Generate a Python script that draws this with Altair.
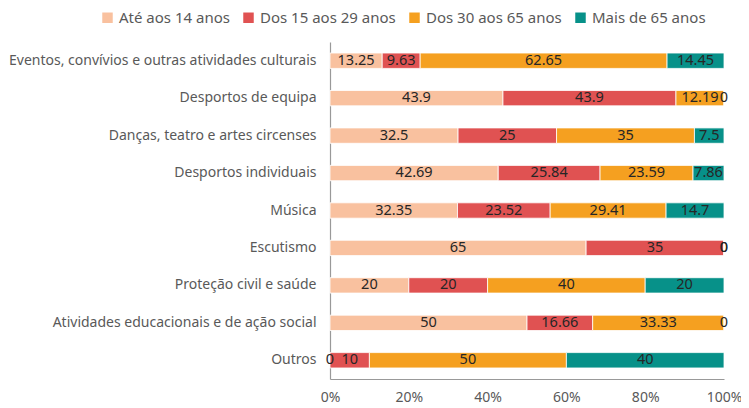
import altair as alt
import pandas as pd

categories = [
    "Eventos, convívios e outras atividades culturais",
    "Desportos de equipa",
    "Danças, teatro e artes circenses",
    "Desportos individuais",
    "Música",
    "Escutismo",
    "Proteção civil e saúde",
    "Atividades educacionais e de ação social",
    "Outros",
]
series = ["Até aos 14 anos", "Dos 15 aos 29 anos", "Dos 30 aos 65 anos", "Mais de 65 anos"]
colors = ["#F9C19F", "#E05252", "#F5A020", "#079189"]

ate14 = [13.25, 43.9, 32.5, 42.69, 32.35, 65, 20, 50, 0]
d15_29 = [9.63, 43.9, 25, 25.84, 23.52, 35, 20, 16.66, 10]
d30_65 = [62.65, 12.19, 35, 23.59, 29.41, 0, 40, 33.33, 50]
mais65 = [14.45, 0, 7.5, 7.86, 14.7, 0, 20, 0, 40]

rows = []
for si, (s, vals) in enumerate(zip(series, [ate14, d15_29, d30_65, mais65])):
    for c, v in zip(categories, vals):
        rows.append({"cat": c, "serie": s, "v": v, "ord": si})
df = pd.DataFrame(rows)

base = alt.Chart(df).transform_stack(
    stack="v", groupby=["cat"], as_=["x0", "x1"], sort=[alt.SortField("ord")], offset="normalize"
).transform_calculate(
    mid="(datum.x0 + datum.x1) / 2", lab="'' + datum.v"
)

y = alt.Y("cat:N", sort=categories, title=None,
          scale=alt.Scale(paddingInner=0.59, paddingOuter=0.295),
          axis=alt.Axis(labelPadding=14, labelLimit=400, labelFontSize=14))

xscale = alt.Scale(domain=[0, 1])

bars = base.mark_bar(stroke="white", strokeWidth=0.8).encode(
    x=alt.X("x0:Q", scale=xscale, title=None,
            axis=alt.Axis(format="%", values=[0, 0.2, 0.4, 0.6, 0.8, 1.0], grid=False,
                          labelPadding=11, labelFlush=False)),
    x2="x1:Q",
    y=y,
    color=alt.Color("serie:N", sort=series, scale=alt.Scale(domain=series, range=colors),
                    legend=alt.Legend(title=None, orient="none", direction="horizontal",
                                      legendX=-230, legendY=-32, symbolType="square",
                                      symbolSize=110, symbolStrokeWidth=0,
                                      labelFont="Noto Sans", labelFontSize=15,
                                      labelColor="#595959", columnPadding=11, labelOffset=4)),
    order=alt.Order("ord:Q"),
)

texts = base.mark_text(font="Noto Sans", fontSize=14.5, color="#262626", baseline="middle").encode(
    x=alt.X("mid:Q", scale=xscale, title=None),
    y=y,
    text="lab:N",
)

chart = (bars + texts).properties(
    width=394, height=337,
    autosize=alt.AutoSizeParams(type="none"),
    padding={"left": 322, "top": 34, "right": 17, "bottom": 32},
).configure_view(stroke=None).configure_axis(
    domain=True, domainColor="#999999", domainWidth=1.2, ticks=False, grid=False,
    labelFont="Noto Sans", labelFontSize=14, labelColor="#595959",
)

chart.save("out.html", embed_options={"renderer": "svg", "actions": False})
